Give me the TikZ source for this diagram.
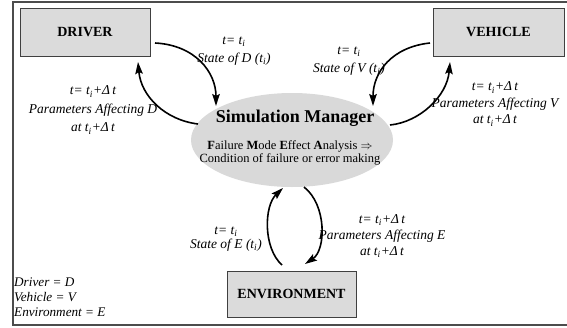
\documentclass[tikz,border=0pt]{standalone}
\usepackage{fontspec}
\setmainfont{Liberation Serif}
\usetikzlibrary{arrows.meta,shapes.geometric}
\newcommand\tsubi{t\textsubscript{i}}
\newcommand\dtt{\tsubi+Δ\,t}
\begin{document}
\begin{tikzpicture}[x=1pt,y=-1pt,
  box/.style={draw=black!75,fill=black!14,line width=0.9pt,minimum width=130pt,minimum height=48pt,inner sep=0,font=\fontsize{14}{16}\selectfont\bfseries},
  lbl/.style={font=\fontsize{13.5}{18}\selectfont\itshape,align=center,inner sep=0},
  flow/.style={line width=1.6pt,-{Stealth[length=12pt,width=7.5pt,inset=2pt]}}
]
\useasboundingbox (0,0) rectangle (567,327);
\draw[black!70,line width=1.3pt] (13,2) rectangle (590,325);

\node[box] (drv) at (85,32) {DRIVER};
\node[box,minimum width=131pt] (veh) at (498.5,32) {VEHICLE};
\node[box,minimum width=129pt,minimum height=46pt] (env) at (291.5,294) {ENVIRONMENT};

\node[ellipse,fill=black!15,minimum width=202pt,minimum height=94pt,inner sep=0] (sim) at (292,140) {};
\node[inner sep=0,font=\fontsize{18}{20}\selectfont\bfseries] (title) at (295,118) {Simulation Manager};
\node[inner sep=0,font=\fontsize{12.5}{14}\selectfont] (fmea) at (290,146) {\textbf{F}ailure \textbf{M}ode \textbf{E}ffect \textbf{A}nalysis $\Rightarrow$};
\node[inner sep=0,font=\fontsize{12.5}{14}\selectfont] (cond) at (290,159) {Condition of failure or error making};

% connector end points
\coordinate (d1) at (155,43);  \coordinate (d2) at (216,106);
\coordinate (d3) at (198,124); \coordinate (d4) at (138,62);
\coordinate (v1) at (430,43);  \coordinate (v2) at (373,106);
\coordinate (v3) at (390,125); \coordinate (v4) at (450,62);
\coordinate (e1) at (282,265); \coordinate (e2) at (283,188);
\coordinate (e3) at (304,187); \coordinate (e4) at (305,264);

\draw[flow] (d1) .. controls (195,45) and (216,72) .. (d2);
\draw[flow] (d3) .. controls (165,120) and (141,96) .. (d4);
\draw[flow] (v1) .. controls (392,47) and (373,72) .. (v2);
\draw[flow] (v3) .. controls (420,122) and (447,96) .. (v4);
\draw[flow] (e1) .. controls (263,248) and (264,206) .. (e2);
\draw[flow] (e3) .. controls (327,205) and (326,250) .. (e4);

\node[lbl] (ld) at (234,51) {t= \tsubi\\State of D (\tsubi)};
\node[lbl] (lv) at (349,61) {t= \tsubi\\State of V (\tsubi)};
\node[lbl,font=\fontsize{13.5}{14.5}\selectfont\itshape] (le) at (226,239) {t= \tsubi\\State of E (\tsubi)};
\node[lbl,font=\fontsize{13.5}{18.5}\selectfont\itshape] (pd) at (93,110) {t= \dtt\\Parameters Affecting D\\at \dtt};
\node[lbl,font=\fontsize{13.5}{16.5}\selectfont\itshape] (pv) at (495,104) {t= \dtt\\Parameters Affecting V\\at \dtt};
\node[lbl,font=\fontsize{13.5}{16}\selectfont\itshape] (pe) at (382,236) {t= \dtt\\Parameters Affecting E\\at \dtt};

\node[anchor=west,align=left,inner sep=0,font=\fontsize{13.2}{15}\selectfont\itshape] (leg) at (14,297) {Driver = D\\Vehicle = V\\Environment = E};
\end{tikzpicture}
\end{document}
